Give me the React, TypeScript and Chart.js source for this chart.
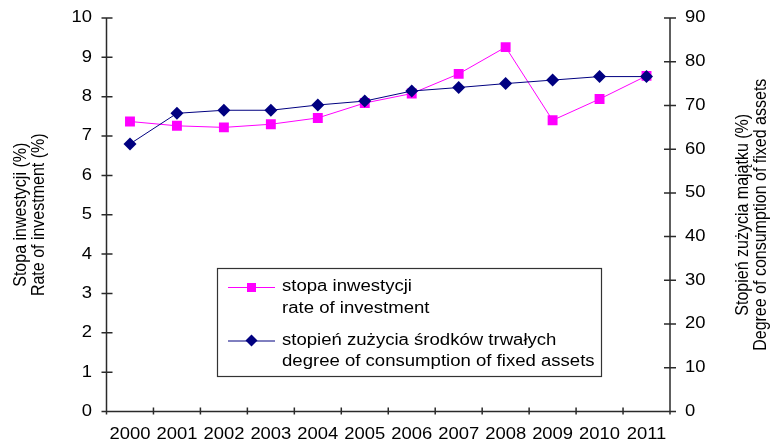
import React, { useEffect, useRef } from 'react';
import Chart from 'chart.js/auto';

const years = ['2000', '2001', '2002', '2003', '2004', '2005', '2006', '2007', '2008', '2009', '2010', '2011'];
const investmentRate = [7.37, 7.26, 7.22, 7.3, 7.46, 7.84, 8.08, 8.58, 9.26, 7.4, 7.94, 8.53];
const consumptionDegree = [61.2, 68.2, 68.9, 68.9, 70.1, 71.0, 73.3, 74.1, 75.0, 75.8, 76.6, 76.6];
const leftTicks = [0, 1, 2, 3, 4, 5, 6, 7, 8, 9, 10];
const rightTicks = [0, 10, 20, 30, 40, 50, 60, 70, 80, 90];
const leftAxisTitle = ['Stopa inwestycji (%)', 'Rate of investment (%)'];
const rightAxisTitle = ['Stopień zużycia majątku (%)', 'Degree of consumption of fixed assets'];
const investmentLabel = ['stopa inwestycji', 'rate of investment'];
const consumptionLabel = ['stopień zużycia środków trwałych', 'degree of consumption of fixed assets'];

const PINK = '#FF00FF';
const NAVY = '#000080';
const FONT = '"Liberation Sans", Arial, sans-serif';
const SX = 1.15;

export default function App() {
  const ref = useRef<HTMLCanvasElement | null>(null);

  useEffect(() => {
    document.body.style.margin = '0';
    const canvas = ref.current!;

    const text = (ctx: CanvasRenderingContext2D, t: string, x: number, y: number, align: CanvasTextAlign, sx = SX) => {
      ctx.save();
      ctx.translate(x, y);
      ctx.scale(sx, 1);
      ctx.textAlign = align;
      ctx.textBaseline = 'middle';
      ctx.fillText(t, 0, 0);
      ctx.restore();
    };

    const axes = {
      id: 'axes',
      beforeDatasetsDraw(chart: any) {
        const ctx = chart.ctx as CanvasRenderingContext2D;
        const a = chart.chartArea;
        const xs = chart.scales.x;
        const yl = chart.scales.y;
        const yr = chart.scales.y1;
        ctx.save();
        ctx.strokeStyle = '#2a2a2a';
        ctx.lineWidth = 1.5;
        ctx.beginPath();
        ctx.moveTo(a.left, a.top);
        ctx.lineTo(a.left, a.bottom);
        ctx.moveTo(a.right, a.top);
        ctx.lineTo(a.right, a.bottom);
        ctx.moveTo(a.left, a.bottom);
        ctx.lineTo(a.right, a.bottom);
        leftTicks.forEach((v) => {
          const y = yl.getPixelForValue(v);
          ctx.moveTo(a.left - 5, y);
          ctx.lineTo(a.left + 6, y);
        });
        rightTicks.forEach((v) => {
          const y = yr.getPixelForValue(v);
          ctx.moveTo(a.right - 6, y);
          ctx.lineTo(a.right + 6, y);
        });
        const step = (a.right - a.left) / years.length;
        for (let i = 0; i <= years.length; i++) {
          const x = a.left + i * step;
          ctx.moveTo(x, a.bottom - 4);
          ctx.lineTo(x, a.bottom + 3);
        }
        ctx.stroke();

        ctx.fillStyle = '#000';
        ctx.font = `16px ${FONT}`;
        leftTicks.forEach((v) => text(ctx, String(v), 92, yl.getPixelForValue(v), 'right'));
        rightTicks.forEach((v) => text(ctx, String(v), 685, yr.getPixelForValue(v), 'left'));
        years.forEach((yr2, i) => text(ctx, yr2, xs.getPixelForValue(i), 434.5, 'center'));

        const midY = (a.top + a.bottom) / 2;
        const drawRot = (lines: string[], xsPos: number[]) => {
          lines.forEach((t, i) => {
            ctx.save();
            ctx.translate(xsPos[i], midY);
            ctx.scale(SX, 1);
            ctx.rotate(-Math.PI / 2);
            ctx.textAlign = 'center';
            ctx.textBaseline = 'middle';
            ctx.fillText(t, 0, 0);
            ctx.restore();
          });
        };
        drawRot(leftAxisTitle, [21, 39]);
        drawRot(rightAxisTitle, [743, 761]);
        ctx.restore();
      },
      afterDraw(chart: any) {
        const ctx = chart.ctx as CanvasRenderingContext2D;
        ctx.save();
        const bx = 217.5, by = 268.5, bw = 384, bh = 108;
        ctx.fillStyle = '#fff';
        ctx.fillRect(bx, by, bw, bh);
        ctx.strokeStyle = '#333';
        ctx.lineWidth = 1.2;
        ctx.strokeRect(bx, by, bw, bh);
        const entries = [
          { color: PINK, style: 'rect', labels: investmentLabel, y: 287 },
          { color: NAVY, style: 'rectRot', labels: consumptionLabel, y: 340.5 },
        ];
        ctx.font = `16px ${FONT}`;
        entries.forEach((e) => {
          ctx.strokeStyle = e.color;
          ctx.lineWidth = 1;
          ctx.beginPath();
          ctx.moveTo(228, e.y + 0.5);
          ctx.lineTo(275, e.y + 0.5);
          ctx.stroke();
          ctx.fillStyle = e.color;
          ctx.beginPath();
          if (e.style === 'rect') {
            ctx.rect(247, e.y - 4, 9, 9);
          } else {
            ctx.moveTo(251.5, e.y - 6);
            ctx.lineTo(257.5, e.y);
            ctx.lineTo(251.5, e.y + 6);
            ctx.lineTo(245.5, e.y);
            ctx.closePath();
          }
          ctx.fill();
          ctx.fillStyle = '#000';
          text(ctx, e.labels[0], 282, e.y, 'left', 1.16);
          text(ctx, e.labels[1], 282, e.y + 21.5, 'left', 1.16);
        });
        ctx.restore();
      },
    };

    const chart = new Chart(canvas, {
      type: 'line',
      data: {
        labels: years,
        datasets: [
          {
            label: investmentLabel.join(' '),
            data: investmentRate,
            yAxisID: 'y',
            borderColor: PINK,
            backgroundColor: PINK,
            borderWidth: 1,
            pointStyle: 'rect',
            pointRadius: 7,
            pointBorderWidth: 0,
            order: 1,
          },
          {
            label: consumptionLabel.join(' '),
            data: consumptionDegree,
            yAxisID: 'y1',
            borderColor: NAVY,
            backgroundColor: NAVY,
            borderWidth: 1,
            pointStyle: 'rectRot',
            pointRadius: 6.5,
            pointBorderWidth: 0,
            order: 0,
          },
        ],
      },
      options: {
        animation: false,
        responsive: false,
        devicePixelRatio: 1,
        layout: { padding: { top: 18, left: 0, right: 0, bottom: 0 } },
        plugins: { legend: { display: false }, tooltip: { enabled: false } },
        scales: {
          x: {
            type: 'category',
            offset: true,
            grid: { display: false },
            border: { display: false },
            ticks: { display: false },
            afterFit: (s: any) => { s.height = 32.5; },
          },
          y: {
            position: 'left',
            min: 0,
            max: 10,
            ticks: { display: false, stepSize: 1 },
            grid: { display: false },
            border: { display: false },
            afterFit: (s: any) => { s.width = 106.5; },
          },
          y1: {
            position: 'right',
            min: 0,
            max: 90,
            ticks: { display: false, stepSize: 10 },
            grid: { display: false },
            border: { display: false },
            afterFit: (s: any) => { s.width = 101; },
          },
        },
      },
      plugins: [axes],
    });
    return () => chart.destroy();
  }, []);

  return (
    <div style={{ position: 'absolute', left: 0, top: 0, width: 771, height: 444, background: '#fff' }}>
      <canvas ref={ref} width={771} height={444} />
    </div>
  );
}
